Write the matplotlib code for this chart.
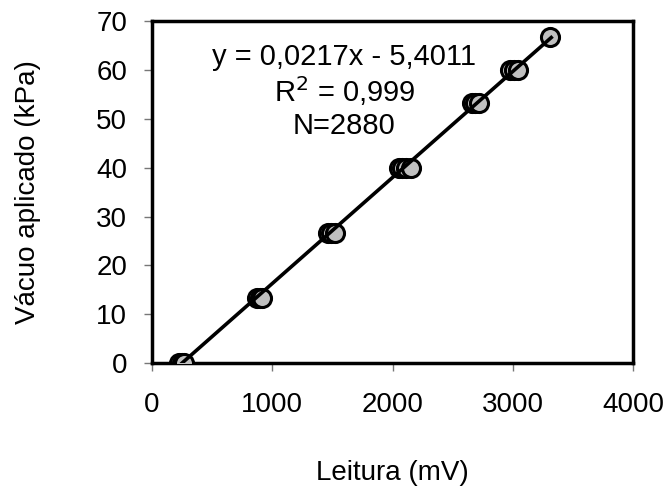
import numpy as np
import matplotlib
matplotlib.use("Agg")
import matplotlib.pyplot as plt

plt.rcParams['font.family'] = ['Liberation Sans', 'DejaVu Sans']

# leituras (mV) por nivel de vacuo (kPa)
leitura_mv = [220, 245, 265,
              870, 895, 915,
              1460, 1490, 1520,
              2050, 2080, 2110, 2150,
              2660, 2690, 2720,
              2980, 3010, 3045,
              3310]
vacuo_kpa = [0, 0, 0,
             13.33, 13.33, 13.33,
             26.67, 26.67, 26.67,
             40, 40, 40, 40,
             53.33, 53.33, 53.33,
             60, 60, 60,
             66.67]
slope = 0.0217
intercept = -5.4011
eq_lines = ["y = 0,0217x - 5,4011", "R$^2$ = 0,999", "N=2880"]


def main():
    fig = plt.figure(figsize=(6.67, 4.92), dpi=100)
    ax = fig.add_axes([0.228, 0.262, 0.721, 0.695])

    ax.plot(leitura_mv, vacuo_kpa, 'o', ms=13, mfc='#c0c0c0', mec='black',
            mew=2.2, zorder=3)
    xl = np.array([min(leitura_mv) + 30, max(leitura_mv) + 10])
    ax.plot(xl, slope * xl + intercept, color='black', lw=2.6, zorder=4)

    ax.set_xlim(0, 4000)
    ax.set_ylim(0, 70)
    ax.set_xticks([0, 1000, 2000, 3000, 4000])
    ax.set_yticks(range(0, 71, 10))
    ax.tick_params(labelsize=20, length=6, width=1, color='#777777',
                   direction='out')
    ax.tick_params(axis='x', pad=15)
    ax.tick_params(axis='y', pad=12)
    for s in ax.spines.values():
        s.set_linewidth(2.5)

    ax.set_xlabel("Leitura (mV)", fontsize=20, labelpad=30)
    ax.set_ylabel("Vácuo aplicado (kPa)", fontsize=20, labelpad=40)

    ax.text(1600, 62.6, eq_lines[0], fontsize=21, ha='center', va='center')
    ax.text(1600, 55.6, eq_lines[1], fontsize=21, ha='center', va='center')
    ax.text(1600, 48.6, eq_lines[2], fontsize=21, ha='center', va='center')

    fig.savefig("out.png", dpi=100)


if __name__ == "__main__":
    main()
